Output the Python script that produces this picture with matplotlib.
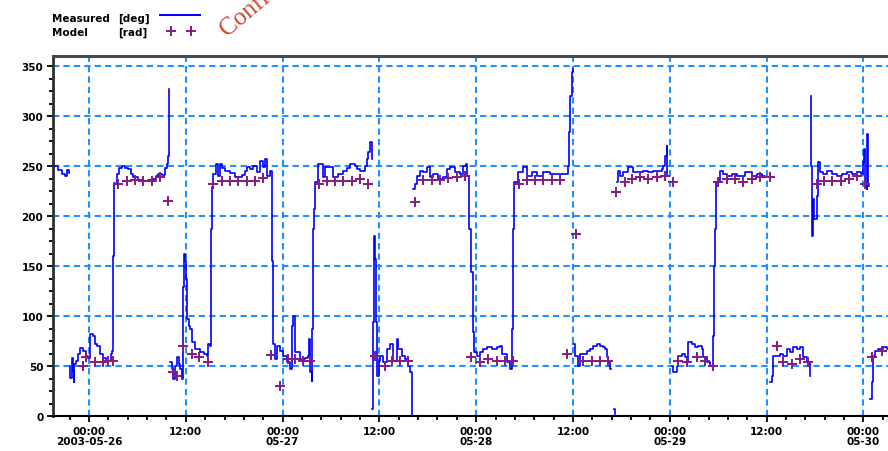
import numpy as np
import pandas as pd
import matplotlib
matplotlib.use("Agg")
import matplotlib.pyplot as plt
import matplotlib.dates as mdates
from matplotlib.lines import Line2D
from matplotlib.ticker import FixedLocator, FixedFormatter, MultipleLocator

START = pd.Timestamp("2003-05-26 00:00")

# measured heading, hours after START, one list per unbroken stretch
measured_hours = [
    [-4.45, -3.8, -3.3, -3.0, -2.7, -2.5],
    [-2.35, -2.3, -2.1, -2.0, -1.9, -1.8, -1.6, -1.35, -1.1, -0.75, -0.35, -0.1,
     0.1, 0.5, 0.75, 1.0, 1.35, 1.75, 2.1, 2.5, 2.75, 2.85, 3.0, 3.1,
     3.2, 3.45, 3.7, 4.1, 4.45, 4.8, 5.2, 5.45, 6.05, 6.7,
     7.3, 7.95, 8.3, 8.55, 9.05, 9.4, 9.65, 9.8, 9.9],
    [10.05, 10.3, 10.4, 10.65, 10.9, 11.15, 11.3, 11.5, 11.65, 11.75,
     11.9, 12.0, 12.15, 12.4, 12.5, 12.75, 13.15, 13.75, 14.25, 14.6,
     14.75, 15.0, 15.1, 15.25,
     15.35, 15.75, 16.0, 16.25, 16.5, 16.85, 17.45, 18.1, 18.95, 19.35,
     19.6, 19.95, 20.3, 20.8, 21.2, 21.55, 21.8, 22.05, 22.45, 22.7, 22.8,
     23.05, 23.3, 23.65, 24.05, 24.55, 24.9, 25.15, 25.3, 25.55, 26.15,
     26.75, 27.15, 27.25, 27.4, 27.6, 27.7, 27.75, 27.9,
     28.0, 28.4, 28.85, 29.0, 29.25, 29.85, 30.25, 30.85, 31.45, 31.95,
     32.35, 32.95, 33.2, 33.6, 34.2, 34.45, 34.55, 34.8, 35.05],
    [35.1, 35.15, 35.3, 35.45, 35.55, 35.65, 35.9, 36.05, 36.45, 36.95,
     37.3, 37.65, 38.15, 38.3, 38.8, 39.15, 39.55, 39.8, 40.0],
    [40.15, 40.4, 40.65, 41.0, 41.4, 41.9, 42.25, 42.65, 43.25, 43.85,
     44.35, 44.75, 45.35, 45.95, 46.35, 46.7, 46.85, 47.1, 47.35, 47.6, 47.7,
     48.1, 48.45, 48.8, 49.3, 49.95, 50.55, 50.95, 51.2, 51.8, 52.15,
     52.4, 52.5, 52.55, 52.65,
     52.8, 53.15, 53.8, 54.3, 54.9, 55.5, 56.25, 57.15, 58.0, 59.0,
     59.35, 59.5, 59.6, 59.85, 59.95],
    [60.0, 60.2, 60.6, 60.85, 61.7, 62.1, 62.45, 62.95, 63.3, 63.7,
     63.95, 64.2, 64.3, 64.55, 64.7],
    [65.05, 65.15],
    [65.45, 65.55, 65.8, 66.15, 66.8, 67.4, 68.05, 68.65, 69.25, 69.9,
     70.5, 71.0, 71.15, 71.4, 71.6, 71.7],
    [72.25, 72.35, 72.85, 73.0, 73.5, 73.85, 74.1, 74.2, 74.7, 75.1,
     75.45, 75.95, 76.1, 76.6, 76.95, 77.3, 77.45, 77.55, 77.7,
     77.8, 78.2, 78.55, 79.05, 79.7, 80.3, 80.9, 81.3, 81.65, 82.15,
     82.8, 83.4, 83.75, 83.9],
    [84.4, 84.65, 84.75, 85.25, 85.65, 86.0, 86.5, 86.85, 87.25, 87.75,
     88.1, 88.5, 88.95, 89.35, 89.4],
    [89.45, 89.5, 89.6, 89.7, 89.85, 90.2, 90.35, 90.6, 90.95, 91.45,
     92.05, 92.7, 93.3, 93.95, 94.55, 95.15, 95.65, 95.9, 96.05, 96.15,
     96.4, 96.5, 96.6, 96.7],
    [96.8, 97.05, 97.15, 97.4, 97.75, 98.4, 98.9, 99.3],
]
measured_deg = [
    [250, 246, 242, 240, 246, 243],
    [50, 38, 58, 45, 34, 52, 55, 62, 68, 65, 60, 58,
     82, 80, 72, 70, 62, 58, 55, 55, 62, 65, 160, 233,
     232, 242, 248, 250, 248, 247, 242, 239, 236, 235,
     236, 237, 240, 242, 241, 248, 252, 260, 327],
    [54, 47, 37, 50, 59, 52, 47, 37, 129, 162,
     155, 137, 97, 90, 87, 74, 67, 64, 62, 60,
     72, 70, 187, 229,
     242, 252, 240, 252, 248, 245, 243, 239, 241, 245,
     249, 247, 250, 244, 255, 249, 257, 240, 245, 155, 72,
     57, 70, 65, 60, 54, 47, 90, 100, 64, 57,
     58, 60, 77, 44, 35, 87, 187, 207,
     234, 252, 252, 239, 249, 249, 239, 242, 245, 248,
     252, 250, 247, 245, 250, 257, 264, 274, 257],
    [7, 94, 180, 157, 94, 40, 55, 60, 54, 67,
     72, 55, 77, 67, 60, 57, 50, 44, 0],
    [227, 232, 240, 245, 244, 249, 239, 242, 237, 239,
     247, 249, 244, 242, 250, 252, 240, 187, 144, 84, 64,
     60, 64, 67, 69, 67, 69, 70, 62, 54, 47,
     67, 87, 187, 234,
     234, 244, 249, 240, 244, 240, 244, 242, 242, 242,
     250, 284, 320, 344, 347],
    [72, 60, 50, 62, 65, 67, 70, 72, 70, 69,
     67, 59, 54, 47, 47],
    [7, 2],
    [234, 245, 240, 244, 249, 244, 244, 245, 244, 245,
     245, 247, 250, 260, 270, 240],
    [50, 44, 50, 60, 62, 59, 54, 74, 72, 69,
     70, 67, 59, 54, 50, 80, 150, 187, 234,
     234, 245, 242, 240, 242, 240, 240, 244, 244, 240,
     242, 240, 239, 239],
    [34, 40, 60, 60, 62, 60, 67, 64, 69, 67,
     69, 59, 54, 40, 40],
    [320, 250, 180, 217, 197, 220, 254, 244, 242, 245,
     242, 240, 242, 244, 242, 244, 242, 254, 267, 230,
     227, 282, 230, 230],
    [17, 34, 60, 65, 67, 69, 67, 67],
]

# hourly model output
model_hours = [-0.75, -0.35, 0.75, 1.75, 2.35, 2.95,
               3.6, 4.7, 5.7, 6.7, 7.8, 8.8, 9.8,
               10.4, 10.9, 11.65, 12.75, 13.65, 14.75,
               15.35, 16.5, 17.45, 18.45, 19.6, 20.55, 21.55,
               22.55, 23.65, 24.65, 25.55, 26.5, 27.4,
               28.5, 29.5, 30.5, 31.45, 32.6, 33.6, 34.55,
               35.45, 36.7, 37.55, 38.55, 39.55,
               40.4, 41.4, 42.5, 43.5, 44.5, 45.6, 46.6,
               47.35, 48.45, 49.45, 50.55, 51.55, 52.55,
               53.3, 54.3, 55.25, 56.25, 57.35, 58.35, 59.25, 60.35,
               61.2, 62.35, 63.3, 64.3,
               65.3, 66.4, 67.3, 68.3, 69.25, 70.4, 71.4, 72.35,
               73.0, 74.1, 75.35, 76.35, 77.3,
               77.95, 79.05, 80.05, 81.05, 82.15, 83.15, 84.4,
               85.25, 86.0, 87.1, 88.1, 89.1,
               90.2, 91.1, 92.05, 93.2, 94.2, 95.15, 96.15,
               97.05, 98.25]
model_values = [50, 59, 54, 54, 55, 55,
                232, 235, 236, 235, 235, 239, 215,
                44, 40, 70, 62, 59, 54,
                232, 235, 235, 235, 235, 235, 238,
                61, 30, 57, 57, 55, 55,
                232, 235, 235, 235, 235, 237, 232,
                60, 50, 55, 55, 55,
                214, 236, 236, 236, 238, 239, 240,
                59, 54, 57, 55, 55, 55,
                232, 236, 236, 236, 236, 236, 62, 182,
                55, 55, 55, 55,
                224, 234, 237, 239, 237, 239, 240, 234,
                55, 54, 59, 55, 50,
                234, 237, 237, 234, 237, 239, 239,
                70, 54, 52, 57, 54,
                232, 235, 235, 235, 237, 240, 232,
                59, 65]

x_tick_labels = ["00:00\n2003-05-26", "12:00", "00:00\n05-27", "12:00",
                 "00:00\n05-28", "12:00", "00:00\n05-29", "12:00",
                 "00:00\n05-30"]

BLUE = "#0000ff"
PURPLE = "#851a85"
GRID = "#1e90ff"
FONT = dict(family="DejaVu Sans", weight="bold", size=7.5)


def to_time(hours):
    return START + pd.to_timedelta(np.asarray(hours, dtype=float), unit="h")


# join the stretches, NaN breaks the line between them
hrs, vals = [], []
for h, v in zip(measured_hours, measured_deg):
    hrs += h + [h[-1] + 0.01]
    vals += v + [np.nan]

fig = plt.figure(figsize=(8.88, 4.52), dpi=100)
ax = fig.add_axes([53 / 888, 35 / 452, 835 / 888, 360 / 452])

ax.plot(to_time(hrs), vals, color=BLUE, lw=1.2, drawstyle="steps-post", zorder=3)
ax.plot(to_time(model_hours), model_values, ls="none", marker="+",
        ms=7, mew=1.4, color=PURPLE, zorder=4)

ax.set_xlim(to_time([-4.46, 99.05]))
ax.set_ylim(0, 360)

# x ticks: every 12 h labelled, minor ticks every 2.4 h
major = to_time(np.arange(0, 97, 12))
minor = to_time(np.arange(-2.4, 99, 2.4))
ax.xaxis.set_major_locator(FixedLocator(mdates.date2num(major)))
ax.xaxis.set_major_formatter(FixedFormatter(x_tick_labels))
ax.xaxis.set_minor_locator(FixedLocator(mdates.date2num(minor)))
ax.yaxis.set_major_locator(MultipleLocator(50))
ax.yaxis.set_minor_locator(MultipleLocator(12.5))

ax.tick_params(which="both", direction="out", color="black", width=1.3)
ax.tick_params(which="major", length=4, pad=3)
ax.tick_params(which="minor", length=3)
for lab in ax.get_xticklabels() + ax.get_yticklabels():
    lab.set(**FONT)
    lab.set_linespacing(1.0)

ax.grid(True, which="major", color=GRID, lw=1.5, ls=(0, (3, 2)), zorder=1)

ax.spines["right"].set_visible(False)
ax.spines["top"].set_color("#4a4a4a")
ax.spines["top"].set_linewidth(2.2)
ax.spines["left"].set_color("#303030")
ax.spines["left"].set_linewidth(2.0)
ax.spines["bottom"].set_color("black")
ax.spines["bottom"].set_linewidth(1.5)

# legend block above the plot
fig.text(52 / 888, 1 - 22 / 452, "Measured", **FONT)
fig.text(118 / 888, 1 - 22 / 452, "[deg]", **FONT)
fig.text(52 / 888, 1 - 36 / 452, "Model", **FONT)
fig.text(118 / 888, 1 - 36 / 452, "[rad]", **FONT)
fig.add_artist(Line2D([160 / 888, 200 / 888], [1 - 16 / 452] * 2,
                      transform=fig.transFigure, color=BLUE, lw=1.4))
fig.add_artist(Line2D([171 / 888, 191 / 888], [1 - 32 / 452] * 2,
                      transform=fig.transFigure, ls="none", marker="+",
                      ms=7, mew=1.4, color=PURPLE))

fig.text(227 / 888, 1 - 37 / 452, "Confidential", family="Liberation Serif",
         size=18, color="#d2452c", rotation=40, rotation_mode="anchor",
         ha="left", va="baseline")

fig.savefig("out.png", dpi=100)
